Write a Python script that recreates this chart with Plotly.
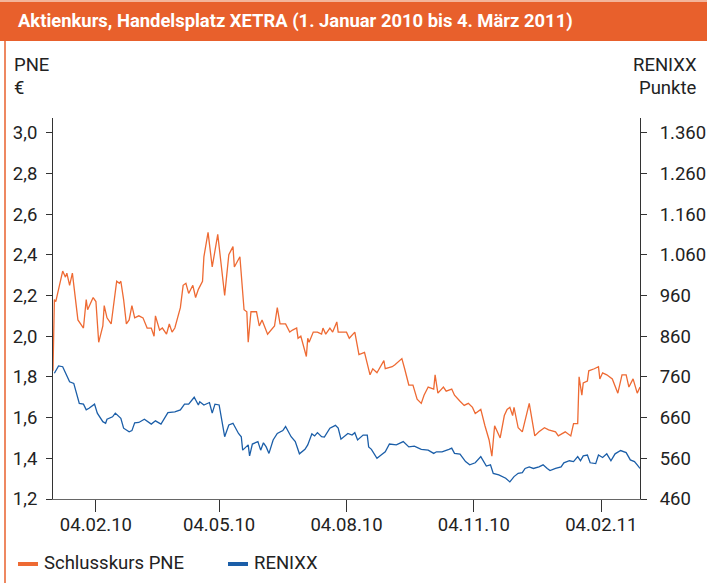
import pandas as pd
import plotly.graph_objects as go

# Farben / Schrift
CORES = {
    "header": "#E8602C",
    "pne": "#EE6A33",
    "renixx": "#1B5EA8",
    "texto": "#222222",
    "eixo": "#333333",
}
FONTE = "Roboto, 'Open Sans', sans-serif"
GROESSE = 18.5

START = pd.Timestamp("2010-01-01")

# Schlusskurs PNE (€) – Tage seit 01.01.2010
PNE_TAGE = [
    3, 4, 5, 10, 12, 13, 15, 17, 21, 25, 27, 28, 32, 34, 36, 39, 40, 42, 45, 49,
    51, 52, 54, 56, 58, 60, 62, 65, 68, 71, 74, 76, 77, 80, 82, 85, 87, 89, 91, 95,
    97, 99, 101, 104, 106, 108, 111, 112, 115, 118, 122, 125, 127, 130, 133, 134, 138, 141, 143, 144,
    146, 150, 152, 154, 158, 163, 165, 167, 171, 174, 176, 179, 180, 182, 186, 187, 188, 191, 194, 197,
    198, 200, 203, 205, 208, 209, 213, 215, 217, 221, 224, 228, 232, 234, 237, 242, 243, 248, 250, 255,
    257, 260, 263, 266, 269, 271, 274, 278, 279, 281, 285, 287, 291, 293, 297, 300, 303, 306, 308, 312,
    315, 318, 320, 322, 326, 329, 331, 333, 335, 336, 339, 342, 347, 351, 354, 358, 361, 366, 368, 373,
    377, 379, 382, 383, 385, 386, 389, 390, 394, 397, 398, 400, 403, 407, 411, 414, 417, 419, 422, 425,
    427,
]
PNE_KURS = [
    1.83, 2.18, 2.17, 2.32, 2.29, 2.31, 2.25, 2.31, 2.08, 2.04, 2.18, 2.13, 2.19, 2.17, 1.97, 2.05, 2.15, 2.09, 2.06, 2.27,
    2.26, 2.27, 2.18, 2.06, 2.08, 2.15, 2.09, 2.10, 2.09, 2.04, 2.04, 2.00, 2.10, 2.03, 2.04, 2.01, 2.06, 2.02, 2.04, 2.14,
    2.25, 2.26, 2.21, 2.25, 2.19, 2.23, 2.27, 2.39, 2.51, 2.34, 2.50, 2.32, 2.20, 2.40, 2.44, 2.34, 2.39, 2.13, 2.12, 1.97,
    2.12, 2.12, 2.05, 2.08, 2.01, 2.05, 2.14, 2.06, 2.06, 2.02, 2.03, 2.04, 1.99, 2.00, 1.90, 1.99, 1.97, 2.02, 2.02, 2.01,
    2.04, 2.01, 2.04, 2.02, 2.07, 2.02, 2.02, 2.02, 1.99, 2.02, 1.91, 1.92, 1.81, 1.84, 1.82, 1.88, 1.84, 1.85, 1.86, 1.89,
    1.84, 1.76, 1.76, 1.69, 1.67, 1.71, 1.75, 1.74, 1.81, 1.72, 1.75, 1.73, 1.74, 1.71, 1.68, 1.66, 1.67, 1.65, 1.62, 1.64,
    1.56, 1.49, 1.41, 1.56, 1.50, 1.61, 1.64, 1.65, 1.61, 1.65, 1.55, 1.53, 1.67, 1.51, 1.53, 1.55, 1.54, 1.53, 1.51, 1.53,
    1.51, 1.57, 1.57, 1.80, 1.71, 1.77, 1.78, 1.83, 1.84, 1.85, 1.79, 1.82, 1.81, 1.79, 1.72, 1.81, 1.81, 1.75, 1.79, 1.72,
    1.75,
]

# RENIXX (Punkte) – Tage seit 01.01.2010
RENIXX_TAGE = [
    4, 7, 10, 12, 15, 18, 22, 25, 27, 29, 33, 35, 39, 41, 42, 46, 48, 52, 54, 58,
    60, 62, 65, 69, 74, 77, 81, 86, 91, 95, 98, 101, 105, 108, 109, 112, 116, 118, 120, 123,
    127, 130, 133, 137, 139, 140, 144, 145, 147, 151, 153, 155, 157, 159, 162, 165, 169, 171, 175, 178,
    181, 185, 187, 190, 192, 194, 197, 199, 203, 207, 209, 211, 214, 216, 219, 221, 223, 227, 230, 231,
    233, 237, 240, 243, 246, 251, 256, 260, 264, 269, 274, 278, 280, 284, 289, 291, 293, 297, 301, 304,
    308, 312, 316, 319, 321, 325, 330, 333, 336, 339, 342, 344, 347, 350, 354, 357, 360, 362, 366, 370,
    372, 376, 379, 382, 384, 386, 389, 391, 395, 397, 400, 403, 406, 409, 413, 417, 420, 423, 425, 427,
]
RENIXX_PUNKTE = [
    769, 787, 785, 770, 748, 744, 695, 693, 679, 683, 693, 671, 650, 646, 656, 662, 671, 658, 634, 625,
    628, 647, 648, 656, 644, 652, 644, 672, 674, 679, 693, 693, 710, 691, 699, 691, 697, 671, 693, 691,
    613, 642, 646, 621, 613, 580, 593, 566, 595, 601, 580, 598, 588, 572, 605, 621, 628, 638, 613, 601,
    571, 582, 593, 620, 615, 623, 613, 612, 634, 641, 634, 607, 615, 621, 617, 623, 605, 617, 617, 588,
    582, 560, 568, 576, 595, 593, 601, 588, 590, 582, 580, 572, 576, 576, 582, 585, 572, 570, 552, 544,
    549, 564, 541, 544, 523, 519, 511, 502, 515, 523, 525, 535, 539, 535, 539, 544, 535, 530, 535, 539,
    549, 554, 552, 564, 554, 566, 568, 549, 547, 568, 562, 571, 554, 571, 579, 574, 556, 552, 544, 535,
]

TICK_DATEN = ["2010-02-04", "2010-05-04", "2010-08-04", "2010-11-04", "2011-02-04"]
TICK_TEXTE = ["04.02.10", "04.05.10", "04.08.10", "04.11.10", "04.02.11"]

TITEL = "Aktienkurs, Handelsplatz XETRA (1. Januar 2010 bis 4. März 2011)"

# Plotfläche in Pixeln
W, H = 707, 583
L, R, T, B = 53, 640, 118, 499


def px(x):
    return (x - L) / (R - L)


def py(y):
    return (B - y) / (B - T)


def _datum(tage):
    return START + pd.to_timedelta(tage, unit="D")


fig = go.Figure()
fig.add_trace(go.Scatter(
    x=_datum(PNE_TAGE), y=PNE_KURS, mode="lines", name="Schlusskurs PNE",
    line=dict(color=CORES["pne"], width=1.3), yaxis="y",
))
fig.add_trace(go.Scatter(
    x=_datum(RENIXX_TAGE), y=RENIXX_PUNKTE, mode="lines", name="RENIXX",
    line=dict(color=CORES["renixx"], width=1.3), yaxis="y2",
))

achse = dict(
    showgrid=False, zeroline=False, showline=True, linecolor=CORES["eixo"], linewidth=1,
    ticks="outside", tickcolor=CORES["eixo"], tickwidth=1, automargin=False,
    tickfont=dict(size=GROESSE, color=CORES["texto"], family=FONTE),
)

fig.update_layout(
    width=W, height=H,
    margin=dict(l=L, r=W - R, t=T, b=H - B, pad=0, autoexpand=False),
    paper_bgcolor="white", plot_bgcolor="white",
    separators=",.",
    showlegend=False,
    hovermode=False,
    font=dict(family=FONTE, color=CORES["texto"]),
    xaxis=dict(
        **achse, type="date",
        range=[_datum(3), _datum(427)],
        tickvals=TICK_DATEN, ticktext=TICK_TEXTE, ticklen=12, ticklabelstandoff=-3,
    ),
    yaxis=dict(
        **achse, range=[1.2, 3.072], tick0=1.2, dtick=0.2, tickformat=".1f",
        ticklen=6, ticklabelstandoff=5,
    ),
    yaxis2=dict(
        **achse, overlaying="y", side="right", range=[460, 1396],
        tick0=460, dtick=100, tickformat=",d", ticklen=6, ticklabelstandoff=9,
    ),
)
fig.update_xaxes(linecolor="#666666")

# Kopfzeile und Rahmen links
fig.add_shape(type="rect", xref="paper", yref="paper",
              x0=px(0), x1=px(W), y0=py(41), y1=py(0),
              fillcolor=CORES["header"], line_width=0, layer="below")
fig.add_shape(type="rect", xref="paper", yref="paper",
              x0=px(0), x1=px(W), y0=py(2), y1=py(0),
              fillcolor="#F3B49A", line_width=0, layer="below")
fig.add_shape(type="line", xref="paper", yref="paper",
              x0=px(5), x1=px(5), y0=py(41), y1=py(H),
              line=dict(color=CORES["header"], width=1.5))

fig.add_annotation(text=f"<b>{TITEL}</b>", xref="paper", yref="paper",
                   x=px(16), y=py(21), xanchor="left", yanchor="middle", showarrow=False,
                   font=dict(size=18.4, color="white", family=FONTE))

# Achsenbeschriftungen
for txt, y in [("PNE", 65), ("€", 88)]:
    fig.add_annotation(text=txt, xref="paper", yref="paper", x=px(12), y=py(y),
                       xanchor="left", yanchor="middle", showarrow=False,
                       font=dict(size=GROESSE, color=CORES["texto"]))
for txt, y in [("RENIXX", 65), ("Punkte", 88)]:
    fig.add_annotation(text=txt, xref="paper", yref="paper", x=px(699), y=py(y),
                       xanchor="right", yanchor="middle", showarrow=False,
                       font=dict(size=GROESSE, color=CORES["texto"]))

# Legende
for x0, x1, farbe, txt in [(18, 38, CORES["pne"], "Schlusskurs PNE"),
                           (228, 248, CORES["renixx"], "RENIXX")]:
    fig.add_shape(type="line", xref="paper", yref="paper",
                  x0=px(x0), x1=px(x1), y0=py(564), y1=py(564),
                  line=dict(color=farbe, width=4))
    fig.add_annotation(text=txt, xref="paper", yref="paper", x=px(x1 + 4), y=py(563),
                       xanchor="left", yanchor="middle", showarrow=False,
                       font=dict(size=GROESSE, color=CORES["texto"]))

fig.write_html("out.html", config={"displayModeBar": False},
               post_script="document.body.style.margin='0';")
